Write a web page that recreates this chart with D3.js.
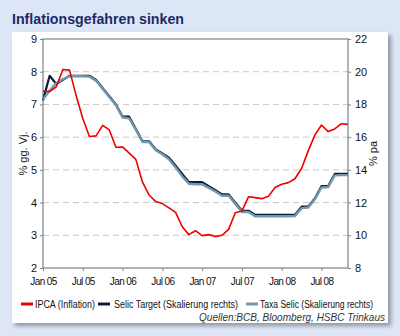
<!DOCTYPE html>
<html><head><meta charset="utf-8">
<script src="https://cdn.jsdelivr.net/npm/d3@7"></script>
<style>
html,body{margin:0;padding:0;background:#dde6f6;}
svg{display:block;}
text{font-family:"Liberation Sans",Arial,sans-serif;}
</style></head><body>
<svg id="c" width="400" height="336"></svg>
<script>
// ---- data (monthly, Jan 05 .. Nov 08) ----
const months = d3.range(0, 47); // 0 = Jan 05
const ipca = [7.41,7.39,7.54,8.07,8.05,7.27,6.57,6.02,6.04,6.36,6.22,5.69,
              5.70,5.51,5.32,4.63,4.23,4.03,3.97,3.84,3.70,3.26,3.02,3.14,
              2.99,3.02,2.96,3.00,3.18,3.69,3.74,4.18,4.15,4.12,4.19,4.46,
              4.56,4.61,4.73,5.04,5.58,6.06,6.37,6.17,6.25,6.41,6.39];
const selicTarget = [18.25,19.75,19.25,19.5,19.75,19.75,19.75,19.75,19.5,19.0,18.5,18.0,
                     17.25,17.25,16.5,15.75,15.75,15.25,15.0,14.75,14.25,13.75,13.25,13.25,
                     13.25,13.0,12.75,12.5,12.5,12.0,11.5,11.5,11.25,11.25,11.25,11.25,
                     11.25,11.25,11.25,11.75,11.75,12.25,13.0,13.0,13.75,13.75,13.75];
const taxaSelic = [18.3,18.85,19.3,19.55,19.72,19.72,19.72,19.7,19.45,18.95,18.45,17.95,
                   17.2,17.15,16.45,15.7,15.7,15.2,14.95,14.65,14.15,13.6,13.15,13.12,
                   13.12,12.9,12.68,12.42,12.42,11.92,11.42,11.42,11.16,11.16,11.16,11.16,
                   11.16,11.16,11.18,11.66,11.7,12.2,12.92,12.95,13.66,13.68,13.68];
const xTickMonths = [0,6,12,18,24,30,36,42];
const xTickLabels = ["Jan 05","Jul 05","Jan 06","Jul 06","Jan 07","Jul 07","Jan 08","Jul 08"];
const leftTicks = [2,3,4,5,6,7,8,9];
const rightTicks = [8,10,12,14,16,18,20,22];
const seriesNames = ["IPCA (Inflation)","Selic Target (Skalierung rechts)","Taxa Selic (Skalierung rechts)"];
const seriesColors = ["#ee0000","#0b1c3e","#7298ad"];

// ---- layout ----
const svg = d3.select("#c");
const L = 43, R = 348, T = 39, B = 268;
const x = d3.scaleLinear().domain([0,46]).range([L,R]);
const yL = d3.scaleLinear().domain([2,9]).range([B,T]);
const yR = d3.scaleLinear().domain([8,22]).range([B,T]);

// title
svg.append("text").attr("x",12).attr("y",24)
  .attr("font-size",15.5).attr("font-weight","bold").attr("fill","#1b2a66")
  .attr("textLength",172).attr("lengthAdjust","spacingAndGlyphs")
  .text("Inflationsgefahren sinken");

// panel with shadow
const defs = svg.append("defs");
const f = defs.append("filter").attr("id","sh").attr("x","-5%").attr("y","-5%").attr("width","115%").attr("height","115%");
f.append("feGaussianBlur").attr("in","SourceAlpha").attr("stdDeviation",2);
f.append("feOffset").attr("dx",3).attr("dy",3).attr("result","o");
f.append("feComponentTransfer").append("feFuncA").attr("type","linear").attr("slope",0.35);
const fm = f.append("feMerge"); fm.append("feMergeNode"); fm.append("feMergeNode").attr("in","SourceGraphic");
svg.append("rect").attr("x",12).attr("y",32).attr("width",376).attr("height",291)
  .attr("fill","#fff").attr("filter","url(#sh)");

// gridlines
svg.append("g").selectAll("line").data(leftTicks.filter(d=>d>2&&d<9)).join("line")
  .attr("x1",L).attr("x2",R).attr("y1",d=>yL(d)).attr("y2",d=>yL(d))
  .attr("stroke","#c9c9c9").attr("stroke-width",1).attr("stroke-dasharray","6,4");

// axes
const axStyle = g => {
  g.select(".domain").remove();
  g.selectAll("line").attr("stroke","#808080");
  g.selectAll("text").attr("font-size",11).attr("fill","#111");
};
svg.append("g").attr("transform",`translate(${L},0)`)
  .call(d3.axisLeft(yL).tickValues(leftTicks).tickFormat(d3.format("d")).tickSize(3).tickPadding(3))
  .call(axStyle);
svg.append("g").attr("transform",`translate(${R},0)`)
  .call(d3.axisRight(yR).tickValues(rightTicks).tickFormat(d3.format("d")).tickSize(3).tickPadding(4))
  .call(axStyle);
const xa = svg.append("g").attr("transform",`translate(0,${B})`)
  .call(d3.axisBottom(x).tickValues(xTickMonths).tickFormat((d,i)=>xTickLabels[i]).tickSize(3).tickPadding(7))
  .call(axStyle);
xa.selectAll("text").attr("font-size",10).attr("letter-spacing","-0.6px").attr("fill","#111");

// frame
svg.append("rect").attr("x",L).attr("y",T).attr("width",R-L).attr("height",B-T)
  .attr("fill","none").attr("stroke","#808080").attr("stroke-width",1.2);

// axis titles
svg.append("text").attr("transform",`translate(27,${(T+B)/2}) rotate(-90)`)
  .attr("text-anchor","middle").attr("font-size",11).attr("fill","#111").text("% gg. Vj.");
svg.append("text").attr("transform",`translate(377,${(T+B)/2}) rotate(-90)`)
  .attr("text-anchor","middle").attr("font-size",11).attr("fill","#111").text("% pa");

// lines
const lineL = d3.line().x((d,i)=>x(months[i])).y(d=>yL(d));
const lineR = d3.line().x((d,i)=>x(months[i])).y(d=>yR(d));
svg.append("path").datum(selicTarget).attr("d",lineR).attr("fill","none")
  .attr("stroke",seriesColors[1]).attr("stroke-width",2.2).attr("stroke-linejoin","round");
svg.append("path").datum(taxaSelic).attr("d",lineR).attr("fill","none")
  .attr("stroke",seriesColors[2]).attr("stroke-width",2.4).attr("stroke-linejoin","round");
svg.append("path").datum(ipca).attr("d",lineL).attr("fill","none")
  .attr("stroke",seriesColors[0]).attr("stroke-width",1.6).attr("stroke-linejoin","round");

// legend
const legX = [[21,35,60],[98,114,124],[246,260,113]];
const lg = svg.append("g");
seriesNames.forEach((n,i)=>{
  lg.append("line").attr("x1",legX[i][0]).attr("x2",legX[i][0]+12).attr("y1",304).attr("y2",304)
    .attr("stroke",seriesColors[i]).attr("stroke-width",3);
  lg.append("text").attr("x",legX[i][1]).attr("y",308).attr("font-size",10).attr("fill","#111")
    .attr("textLength",legX[i][2]).attr("lengthAdjust","spacingAndGlyphs").text(n);
});
svg.append("text").attr("x",385).attr("y",321).attr("text-anchor","end")
  .attr("font-size",10.5).attr("font-style","italic").attr("fill","#333")
  .attr("textLength",186).attr("lengthAdjust","spacingAndGlyphs")
  .text("Quellen:BCB, Bloomberg, HSBC Trinkaus");
</script>
</body></html>
